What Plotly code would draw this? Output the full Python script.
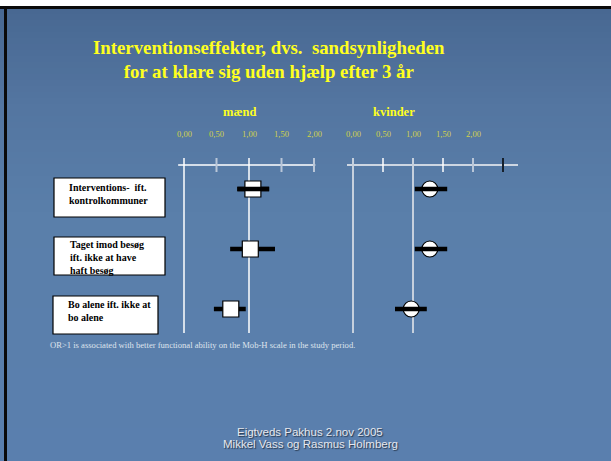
import plotly.graph_objects as go

# ---------------- data ----------------
row_keys = ["Interventions", "Besøg", "Bo alene"]
row_labels = [
    "Interventions-\u00a0 ift.<br>kontrolkommuner",
    "Taget imod besøg<br>ift. ikke at have<br>haft besøg",
    "Bo alene ift. ikke at<br>bo alene",
]
men_or = [1.06, 1.02, 0.72]
men_lo = [0.82, 0.71, 0.46]
men_hi = [1.31, 1.40, 0.95]
women_or = [1.28, 1.28, 0.97]
women_lo = [1.03, 1.03, 0.70]
women_hi = [1.57, 1.57, 1.23]
men_tick_vals = [0, 0.5, 1, 1.5, 2]
women_tick_vals = [0, 0.5, 1, 1.5, 2, 2.5]
tick_vals = [0, 0.5, 1, 1.5, 2]
tick_text = ["0,00", "0,50", "1,00", "1,50", "2,00"]
title_text = "Interventionseffekter, dvs.\u00a0 sandsynligheden<br>for at klare sig uden hjælp efter 3 år"
panel_titles = ["mænd", "kvinder"]
footnote = "OR>1 is associated with better functional ability on the Mob-H scale in the study period."
footer_lines = ["Eigtveds Pakhus 2.nov 2005", "Mikkel Vass og Rasmus Holmberg"]

# ---------------- layout constants ----------------
W, H = 611, 461
def px(p):  # paper x from pixel
    return p / W
def py(p):  # paper y from pixel (top origin)
    return 1 - p / H

MEN_X0, MEN_PX = 184, 65.0
WOM_X0, WOM_PX = 353, 60.0
ROW0, ROWSTEP = 189, 60.0
YELLOW = "#ffff1e"
TICKYEL = "#d2d24a"
SERIF = "Liberation Serif"
SANS = "Liberation Sans"

fig = go.Figure()

def ci_xy(lo, hi, keys, mask=None):
    xs, ys = [], []
    for i, (a, b, k) in enumerate(zip(lo, hi, keys)):
        if mask is not None and not mask[i]:
            continue
        xs += [a, b, None]
        ys += [k, k, None]
    return xs, ys

men_line_over = [True, False, False]

# men CI (under)
x, y = ci_xy(men_lo, men_hi, row_keys)
fig.add_trace(go.Scatter(x=x, y=y, mode="lines", line=dict(color="black", width=4.5),
                         xaxis="x", yaxis="y", hoverinfo="skip"))
fig.add_trace(go.Scatter(x=men_or, y=row_keys, mode="markers",
                         marker=dict(symbol="square", size=16, color="white",
                                     line=dict(color="black", width=1.2)),
                         xaxis="x", yaxis="y", hoverinfo="skip"))
x, y = ci_xy(men_lo, men_hi, row_keys, men_line_over)
fig.add_trace(go.Scatter(x=x, y=y, mode="lines", line=dict(color="black", width=4.5),
                         xaxis="x", yaxis="y", hoverinfo="skip"))
# women
fig.add_trace(go.Scatter(x=women_or, y=row_keys, mode="markers",
                         marker=dict(symbol="circle", size=16, color="white",
                                     line=dict(color="black", width=1.2)),
                         xaxis="x2", yaxis="y", hoverinfo="skip"))
x, y = ci_xy(women_lo, women_hi, row_keys)
fig.add_trace(go.Scatter(x=x, y=y, mode="lines", line=dict(color="black", width=4.5),
                         xaxis="x2", yaxis="y", hoverinfo="skip"))

shapes = []
# background gradient bands
stops = [(8, (72, 104, 146)), (110, (84, 118, 161)), (220, (90, 127, 170)), (461, (90, 127, 174))]
def col_at(yp):
    for (y0, c0), (y1, c1) in zip(stops[:-1], stops[1:]):
        if y0 <= yp <= y1:
            t = (yp - y0) / (y1 - y0)
            return "rgb(%d,%d,%d)" % tuple(round(a + (b - a) * t) for a, b in zip(c0, c1))
    return "rgb(%d,%d,%d)" % stops[-1][1]
band = 6
yp = 8
while yp < H:
    shapes.append(dict(type="rect", xref="paper", yref="paper", x0=0, x1=1,
                       y0=py(min(yp + band, H)), y1=py(yp), fillcolor=col_at(yp + band / 2),
                       line=dict(width=0), layer="below"))
    yp += band
shapes.append(dict(type="rect", xref="paper", yref="paper", x0=0, x1=1, y0=py(6), y1=1,
                   fillcolor="white", line=dict(width=0), layer="below"))
shapes.append(dict(type="rect", xref="paper", yref="paper", x0=0, x1=1, y0=py(9), y1=py(6),
                   fillcolor="#0a0a0a", line=dict(width=0), layer="below"))
shapes.append(dict(type="rect", xref="paper", yref="paper", x0=px(4), x1=px(7), y0=0, y1=py(6),
                   fillcolor="#0a0a0a", line=dict(width=0), layer="below"))

def vline(xref, xv, y0, y1, color, w):
    shapes.append(dict(type="line", xref=xref, yref="paper", x0=xv, x1=xv,
                       y0=py(y1), y1=py(y0), line=dict(color=color, width=w), layer="below"))

AXY, TOPY, TICKB, LONGB = 165, 158, 172, 333
# men axis
shapes.append(dict(type="line", xref="x", yref="paper", x0=-0.09, x1=2.02, y0=py(AXY), y1=py(AXY),
                   line=dict(color="white", width=1.5), layer="below"))
for v in men_tick_vals:
    if v in (0, 1):
        vline("x", v, TOPY, LONGB, "white", 1.5)
    else:
        vline("x", v, TOPY, TICKB, "#b9c6d8", 2)
# women axis
shapes.append(dict(type="line", xref="x2", yref="paper", x0=-0.10, x1=2.75, y0=py(AXY), y1=py(AXY),
                   line=dict(color="#cdd6e2", width=2), layer="below"))
wcols = {0: "#c6d0dd", 0.5: "white", 1: "#c6d0dd", 1.5: "white", 2: "#b9c6d8", 2.5: "#16202c"}
for v in women_tick_vals:
    if v in (0, 1):
        vline("x2", v, TOPY, LONGB, wcols[v], 2)
    else:
        vline("x2", v, TOPY, TICKB, wcols[v], 1.5 if v in (0.5, 1.5) else 2)

# label boxes
boxes = [(54, 165, 178, 217), (54, 165, 237, 275), (53, 158, 296, 334)]
for (x0, x1, y0, y1) in boxes:
    shapes.append(dict(type="rect", xref="paper", yref="paper", x0=px(x0), x1=px(x1),
                       y0=py(y1), y1=py(y0), fillcolor="white",
                       line=dict(color="black", width=1.2)))

ann = []
ann.append(dict(text="<b>%s</b>" % title_text, xref="paper", yref="paper", x=px(269), y=py(59.5),
                xanchor="center", yanchor="middle", showarrow=False, align="center",
                font=dict(family=SERIF, size=18.8, color=YELLOW)))
for t, xr, cx in [(panel_titles[0], "x", 240), (panel_titles[1], "x2", 394)]:
    ann.append(dict(text="<b>%s</b>" % t, xref="paper", yref="paper", x=px(cx), y=py(112),
                    xanchor="center", yanchor="middle", showarrow=False,
                    font=dict(family=SERIF, size=12.5, color=YELLOW)))
for xr in ["x", "x2"]:
    for v, t in zip(tick_vals, tick_text):
        ann.append(dict(text=t, xref=xr, yref="paper", x=v, y=py(134), xanchor="center",
                        yanchor="middle", showarrow=False,
                        font=dict(family=SERIF, size=8.5, color=TICKYEL)))
label_pos = [(67, 193.5), (68, 257.5), (66, 311)]
for lab, (lx, ly) in zip(row_labels, label_pos):
    ann.append(dict(text="<b>%s</b>" % lab, xref="paper", yref="paper", x=px(lx), y=py(ly),
                    xanchor="left", yanchor="middle", showarrow=False, align="left",
                    font=dict(family=SERIF, size=10, color="black")))
ann.append(dict(text=footnote, xref="paper", yref="paper", x=px(48), y=py(345),
                xanchor="left", yanchor="middle", showarrow=False,
                font=dict(family=SERIF, size=8.6, color="#dfe4ec")))
for t, fy in zip(footer_lines, [431.5, 444]):
    ann.append(dict(text=t, xref="paper", yref="paper", x=px(310), y=py(fy),
                    xanchor="center", yanchor="middle", showarrow=False,
                    font=dict(family=SANS, size=11.5, color="#e6e8ee",
                              shadow="1px 1px 1px #26364a")))

fig.update_layout(
    width=W, height=H, margin=dict(l=0, r=0, t=0, b=0),
    paper_bgcolor="rgb(90,127,172)", plot_bgcolor="rgba(0,0,0,0)",
    showlegend=False, shapes=shapes, annotations=ann,
    xaxis=dict(domain=[0, 1], range=[-MEN_X0 / MEN_PX, (W - MEN_X0) / MEN_PX], visible=False,
               fixedrange=True),
    xaxis2=dict(domain=[0, 1], range=[-WOM_X0 / WOM_PX, (W - WOM_X0) / WOM_PX], visible=False,
                overlaying="x", anchor="y", fixedrange=True),
    yaxis=dict(domain=[0, 1], type="category", categoryorder="array", categoryarray=row_keys,
               range=[(H - ROW0) / ROWSTEP, -ROW0 / ROWSTEP], visible=False, fixedrange=True),
)
fig.write_html("out.html", config={"displayModeBar": False},
               post_script="document.body.style.margin='0';document.body.style.overflow='hidden';")
